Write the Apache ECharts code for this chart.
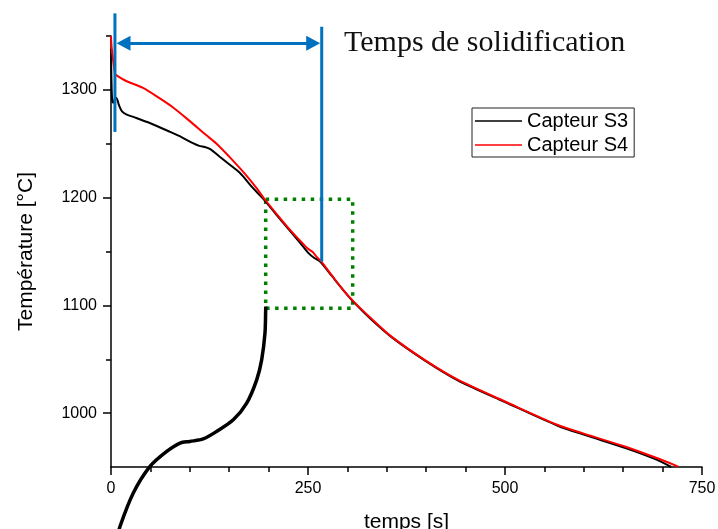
<!DOCTYPE html>
<html>
  <head>
    <meta charset="utf-8">
    <title>Temps de solidification</title>
    <style>
      html, body {
        margin: 0;
        padding: 0;
        width: 100%;
        height: 100%;
        background: #fff;
      }
      #chart {
        width: 718px;
        height: 529px;
      }
    </style>
  </head>
  <body>
    <div id="chart"></div>
    <script src="https://cdn.jsdelivr.net/npm/echarts@6/dist/echarts.min.js"></script>
    <script type="text/javascript">

      // capteur S3 : [temps (s), température (°C)]
      const capteurS3 = [
        [0, 1338], [0.5, 1312], [1.5, 1290], [3, 1288], [5, 1292], [6, 1293],
        [8, 1291], [10, 1286], [14, 1280], [20, 1277], [30, 1274.5], [50, 1269],
        [75, 1261], [90, 1256], [104, 1250.5], [112, 1248], [119, 1247], [126, 1245],
        [138, 1238], [150, 1231], [164, 1222.6], [180, 1209], [193, 1199],
        [210, 1184], [225, 1171], [240, 1158], [250, 1149], [258, 1144], [265, 1141],
        [280, 1127.5], [295, 1114], [308, 1103], [330, 1087], [356, 1070.5],
        [398, 1049], [440, 1030.5], [500, 1010.3], [567, 988.3], [600, 980],
        [652, 967.8], [690, 957.5], [711, 950]
      ];

      // capteur S4
      const capteurS4 = [
        [0, 1350], [1, 1338], [5, 1315], [6, 1314], [20, 1308], [40, 1302],
        [60, 1293], [80, 1283], [100, 1271], [120, 1258.5], [134, 1250],
        [150, 1238], [170, 1222], [185, 1208.5], [195, 1198.5], [210, 1185],
        [225, 1172], [240, 1160], [250, 1152.5], [256, 1149.5], [261, 1145],
        [267, 1140.6], [280, 1128], [295, 1114], [308, 1103.5], [330, 1088],
        [356, 1071], [398, 1049.4], [440, 1031], [500, 1010.8], [567, 989],
        [600, 981], [652, 969], [690, 959], [720, 950.4]
      ];

      // courbe noire épaisse (sort des axes)
      const courbe = [
        [8, 884], [11.4, 894.8], [28.3, 925.8], [49.5, 950.5], [70.7, 964.4],
        [87.6, 972.2], [100, 973.7], [117, 976], [134, 983], [155.2, 993.8],
        [172.2, 1009.3], [184.9, 1030.9], [191.2, 1049.4], [195.4, 1074.2],
        [196.3, 1096], [196.4, 1099]
      ];

      const xTicks = [0, 250, 500, 750];
      const yMajor = [1000, 1100, 1200, 1300];
      const yMinor = [1050, 1150, 1250, 1350];

      // temps de solidification : traits verticaux et flèche
      const traitDebut = [[5, 1371], [5, 1261]];
      const traitFin = [[267.4, 1358.6], [267.4, 1140.6]];
      const fleche = [[15.9, 1343.2], [256.6, 1343.2]];

      // cadre pointillé vert
      const cadre = [[196.3, 1198.5], [306.7, 1097.4]];

      const blue = '#0070c0';
      const sans = '"Liberation Sans", Arial, sans-serif';

      const chart = echarts.init(document.getElementById('chart'), null, { renderer: 'canvas' });

      const traitSerie = (name, data) => ({
        name: name,
        type: 'line',
        data: data,
        symbol: 'none',
        clip: false,
        silent: true,
        z: 5,
        lineStyle: { color: blue, width: 3 }
      });

      chart.setOption({
        animation: false,
        backgroundColor: '#fff',
        title: {
          text: 'Temps de solidification',
          left: 339,
          top: 23,
          textStyle: {
            fontFamily: '"Liberation Serif", "DejaVu Serif", serif',
            fontSize: 30,
            fontWeight: 'normal',
            color: '#111'
          }
        },
        legend: {
          data: [
            { name: 'Capteur S3', icon: 'rect' },
            { name: 'Capteur S4', icon: 'rect' }
          ],
          orient: 'vertical',
          left: 472,
          top: 108,
          padding: [3, 6, 2, 3],
          itemWidth: 47,
          itemHeight: 1.5,
          itemGap: 4,
          backgroundColor: '#fff',
          borderColor: '#222',
          borderWidth: 1,
          borderRadius: 0,
          textStyle: { fontFamily: sans, fontSize: 20, color: '#000' }
        },
        grid: {
          left: 111, right: 16, top: 36, bottom: 62,
          containLabel: false,
          outerBoundsMode: 'none'
        },
        xAxis: {
          type: 'value',
          min: 0,
          max: 750,
          interval: 250,
          name: 'temps [s]',
          nameLocation: 'middle',
          nameGap: 45,
          nameTextStyle: { fontFamily: sans, fontSize: 21, color: '#000' },
          axisLine: { show: true, onZero: false, lineStyle: { color: '#000', width: 1.5 } },
          axisTick: { show: true, length: 8, lineStyle: { color: '#000', width: 1.5 } },
          minorTick: { show: true, splitNumber: 5, length: 5, lineStyle: { color: '#000', width: 1.5 } },
          axisLabel: {
            fontFamily: sans, fontSize: 16, color: '#000', margin: 14,
            customValues: xTicks,
            formatter: v => String(v)
          },
          splitLine: { show: false }
        },
        yAxis: [
          {
            type: 'value',
            min: 950,
            max: 1350,
            name: 'Température [°C]',
            nameLocation: 'middle',
            nameGap: 74,
            nameRotate: 90,
            nameTextStyle: { fontFamily: sans, fontSize: 21, color: '#000' },
            axisLine: { show: true, onZero: false, lineStyle: { color: '#000', width: 1.5 } },
            axisTick: { show: true, length: 8, customValues: yMajor, lineStyle: { color: '#000', width: 1.5 } },
            axisLabel: {
              fontFamily: sans, fontSize: 16, color: '#000', margin: 14,
              customValues: yMajor,
              formatter: v => String(v)
            },
            splitLine: { show: false }
          },
          {
            type: 'value',
            min: 950,
            max: 1350,
            position: 'left',
            axisLine: { show: false },
            axisTick: { show: true, length: 5, customValues: yMinor, lineStyle: { color: '#000', width: 1.5 } },
            axisLabel: { show: false },
            splitLine: { show: false }
          }
        ],
        series: [
          {
            name: 'Capteur S3',
            type: 'line',
            data: capteurS3,
            symbol: 'none',
            smooth: 0.3,
            color: '#000',
            lineStyle: { color: '#000', width: 2 },
            silent: true
          },
          {
            name: 'Capteur S4',
            type: 'line',
            data: capteurS4,
            symbol: 'none',
            smooth: 0.3,
            color: '#ff0000',
            lineStyle: { color: '#ff0000', width: 2 },
            silent: true
          },
          {
            name: 'courbe',
            type: 'line',
            data: courbe,
            symbol: 'none',
            smooth: 0.3,
            clip: false,
            lineStyle: { color: '#000', width: 3.5 },
            silent: true
          },
          traitSerie('debut', traitDebut),
          traitSerie('fin', traitFin),
          {
            name: 'annotations',
            type: 'line',
            data: [],
            clip: false,
            silent: true,
            z: 5,
            markArea: {
              silent: true,
              itemStyle: {
                color: 'rgba(0,0,0,0)',
                borderColor: '#008000',
                borderWidth: 3.5,
                borderType: [3.5, 5.5]
              },
              data: [[{ coord: cadre[0] }, { coord: cadre[1] }]]
            },
            markLine: {
              silent: true,
              animation: false,
              label: { show: false },
              lineStyle: { color: blue, width: 3, type: 'solid' },
              symbol: ['triangle', 'triangle'],
              symbolSize: [15, 14],
              data: [[{ coord: fleche[0] }, { coord: fleche[1] }]]
            }
          }
        ]
      });
    </script>
  </body>
</html>
